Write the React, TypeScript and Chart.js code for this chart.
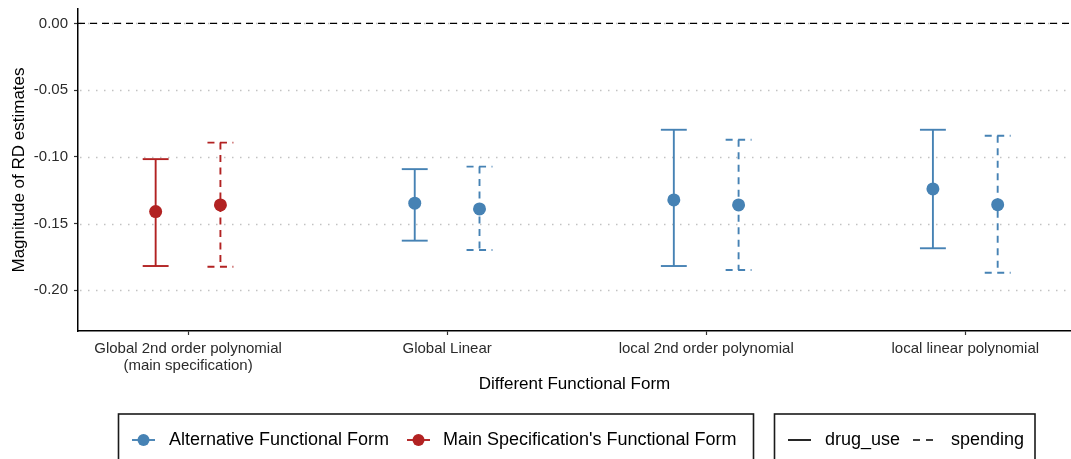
import React, { useEffect, useRef } from "react";
import { Chart, registerables } from "chart.js";

Chart.register(...registerables);

const FONT = "'Liberation Sans', Arial, Helvetica, sans-serif";

// ---- data ----
const categories: string[][] = [
  ["Global 2nd order polynomial", "(main specification)"],
  ["Global Linear"],
  ["local 2nd order polynomial"],
  ["local linear polynomial"],
];
const isMainSpecification = [true, false, false, false];

const drugUseEstimate = [-0.141, -0.1347, -0.1323, -0.124];
const drugUseLower = [-0.1818, -0.1628, -0.1818, -0.1685];
const drugUseUpper = [-0.1017, -0.1092, -0.0797, -0.0797];

const spendingEstimate = [-0.136, -0.139, -0.136, -0.1358];
const spendingLower = [-0.1823, -0.1698, -0.1848, -0.1868];
const spendingUpper = [-0.0893, -0.1073, -0.0872, -0.0842];

const yTicks = [0, -0.05, -0.1, -0.15, -0.2];

const legendColorLabels = ["Alternative Functional Form", "Main Specification's Functional Form"];
const legendLineLabels = ["drug_use", "spending"];

// ---- styles ----
const BLUE = "#4682B4";
const RED = "#B22222";
const DASH = [7, 5.5];
const DODGE = 0.125;
const CAP_HALF = 0.05;

const outcomes = [
  { name: "drug_use", est: drugUseEstimate, lo: drugUseLower, hi: drugUseUpper, dash: [] as number[], offset: -DODGE },
  { name: "spending", est: spendingEstimate, lo: spendingLower, hi: spendingUpper, dash: DASH, offset: DODGE },
];

const colorFor = (i: number) => (isMainSpecification[i] ? RED : BLUE);

const chartPlugin = {
  id: "rdDecor",
  beforeDatasetsDraw(chart: any) {
    const { ctx, chartArea, scales } = chart;
    const xs = scales.x;
    const ys = scales.y;
    ctx.save();
    ctx.beginPath();
    ctx.rect(chartArea.left, chartArea.top, chartArea.right - chartArea.left, chartArea.bottom - chartArea.top);
    ctx.clip();
    // dotted grid lines
    ctx.strokeStyle = "#c2c2c2";
    ctx.lineWidth = 1.3;
    ctx.setLineDash([1.5, 6.5]);
    yTicks.forEach((v) => {
      const y = Math.round(ys.getPixelForValue(v)) + 0.5;
      ctx.beginPath();
      ctx.moveTo(chartArea.left + 2, y);
      ctx.lineTo(chartArea.right, y);
      ctx.stroke();
    });
    // zero reference line
    ctx.strokeStyle = "#000";
    ctx.lineWidth = 1.4;
    ctx.setLineDash([7, 5]);
    const y0 = ys.getPixelForValue(0);
    ctx.beginPath();
    ctx.moveTo(chartArea.left, y0);
    ctx.lineTo(chartArea.right, y0);
    ctx.stroke();
    // error bars
    chart.data.datasets.forEach((ds: any) => {
      ds.data.forEach((d: any, i: number) => {
        const x = xs.getPixelForValue(d.x);
        const xl = xs.getPixelForValue(d.x - CAP_HALF);
        const xr = xs.getPixelForValue(d.x + CAP_HALF);
        const yh = ys.getPixelForValue(d.hi);
        const yl = ys.getPixelForValue(d.lo);
        ctx.strokeStyle = colorFor(i);
        ctx.lineWidth = 1.9;
        ctx.setLineDash(ds.errDash);
        ctx.beginPath();
        ctx.moveTo(xl, yh);
        ctx.lineTo(xr, yh);
        ctx.stroke();
        ctx.beginPath();
        ctx.moveTo(x, yh);
        ctx.lineTo(x, yl);
        ctx.stroke();
        ctx.beginPath();
        ctx.moveTo(xl, yl);
        ctx.lineTo(xr, yl);
        ctx.stroke();
      });
    });
    ctx.restore();
  },
  afterDraw(chart: any) {
    const { ctx } = chart;
    ctx.save();
    ctx.setLineDash([]);
    ctx.strokeStyle = "#1a1a1a";
    ctx.lineWidth = 1.6;
    ctx.strokeRect(118.5, 414, 635, 80);
    ctx.strokeRect(774.5, 414, 260.5, 80);
    const ly = 440;
    ctx.font = `18px ${FONT}`;
    ctx.fillStyle = "#000";
    ctx.textBaseline = "middle";
    ctx.textAlign = "left";
    const colorKeys = [
      { cx: 143.5, tx: 169, color: BLUE, label: legendColorLabels[0] },
      { cx: 418.5, tx: 443, color: RED, label: legendColorLabels[1] },
    ];
    colorKeys.forEach((k) => {
      ctx.strokeStyle = k.color;
      ctx.lineWidth = 1.9;
      ctx.beginPath();
      ctx.moveTo(k.cx - 11.5, ly);
      ctx.lineTo(k.cx + 11.5, ly);
      ctx.stroke();
      ctx.fillStyle = k.color;
      ctx.beginPath();
      ctx.arc(k.cx, ly, 6, 0, Math.PI * 2);
      ctx.fill();
      ctx.fillStyle = "#000";
      ctx.fillText(k.label, k.tx, ly);
    });
    const lineKeys = [
      { x0: 788, tx: 825, dash: [] as number[], label: legendLineLabels[0] },
      { x0: 913, tx: 951, dash: [7, 6], label: legendLineLabels[1] },
    ];
    lineKeys.forEach((k) => {
      ctx.strokeStyle = "#000";
      ctx.lineWidth = 1.7;
      ctx.setLineDash(k.dash);
      ctx.beginPath();
      ctx.moveTo(k.x0, ly);
      ctx.lineTo(k.x0 + 23, ly);
      ctx.stroke();
      ctx.setLineDash([]);
      ctx.fillText(k.label, k.tx, ly);
    });
    ctx.restore();
  },
};

export default function App() {
  const ref = useRef<HTMLCanvasElement | null>(null);

  useEffect(() => {
    document.body.style.margin = "0";
    const canvas = ref.current;
    if (!canvas) return;

    const datasets = outcomes.map((o) => ({
      label: o.name,
      data: categories.map((_, i) => ({ x: i + 1 + o.offset, y: o.est[i], lo: o.lo[i], hi: o.hi[i] })),
      errDash: o.dash,
      pointRadius: 6.5,
      pointHoverRadius: 6.5,
      pointBorderWidth: 0,
      pointBackgroundColor: categories.map((_, i) => colorFor(i)),
      pointBorderColor: categories.map((_, i) => colorFor(i)),
      showLine: false,
    }));

    const chart = new Chart(canvas, {
      type: "scatter",
      data: { datasets } as any,
      options: {
        animation: false,
        responsive: false,
        maintainAspectRatio: false,
        layout: { autoPadding: false, padding: { top: 9, right: 0, bottom: 64, left: 0 } },
        plugins: { legend: { display: false }, tooltip: { enabled: false } },
        events: [],
        scales: {
          x: {
            type: "linear",
            min: 0.5753,
            max: 4.408,
            afterBuildTicks: (s: any) => {
              s.ticks = categories.map((_, i) => ({ value: i + 1 }));
            },
            ticks: {
              callback: (v: any) => categories[Math.round(Number(v)) - 1] ?? "",
              font: { family: FONT, size: 15, lineHeight: 1.1 },
              color: "#2b2b2b",
              padding: 6,
              maxRotation: 0,
              autoSkip: false,
            },
            grid: { drawOnChartArea: false, drawTicks: true, tickLength: 4, tickColor: "#333", tickWidth: 1.2 },
            border: { display: true, color: "#000", width: 1.5 },
            title: {
              display: true,
              text: "Different Functional Form",
              font: { family: FONT, size: 17 },
              color: "#000",
              padding: { top: 0, bottom: 0 },
            },
            afterFit: (s: any) => {
              s.height = 64;
              s.paddingLeft = 0;
              s.paddingRight = 0;
            },
          },
          y: {
            type: "linear",
            min: -0.2305,
            max: 0.0108,
            afterBuildTicks: (s: any) => {
              s.ticks = yTicks.map((v) => ({ value: v }));
            },
            ticks: {
              callback: (v: any) => Number(v).toFixed(2),
              font: { family: FONT, size: 15 },
              color: "#2b2b2b",
              padding: 6,
            },
            grid: { drawOnChartArea: false, drawTicks: true, tickLength: 4, tickColor: "#333", tickWidth: 1.2 },
            border: { display: true, color: "#000", width: 1.5 },
            title: {
              display: true,
              text: "Magnitude of RD estimates",
              font: { family: FONT, size: 17 },
              color: "#000",
              padding: { top: 9, bottom: 0 },
            },
            afterFit: (s: any) => {
              s.width = 78;
              s.paddingTop = 0;
              s.paddingBottom = 0;
            },
          },
        },
      } as any,
      plugins: [chartPlugin],
    });

    return () => chart.destroy();
  }, []);

  return (
    <div style={{ width: 1071, height: 459, position: "relative", background: "#fff" }}>
      <canvas ref={ref} width={1071} height={459} style={{ display: "block", width: 1071, height: 459 }} />
    </div>
  );
}
